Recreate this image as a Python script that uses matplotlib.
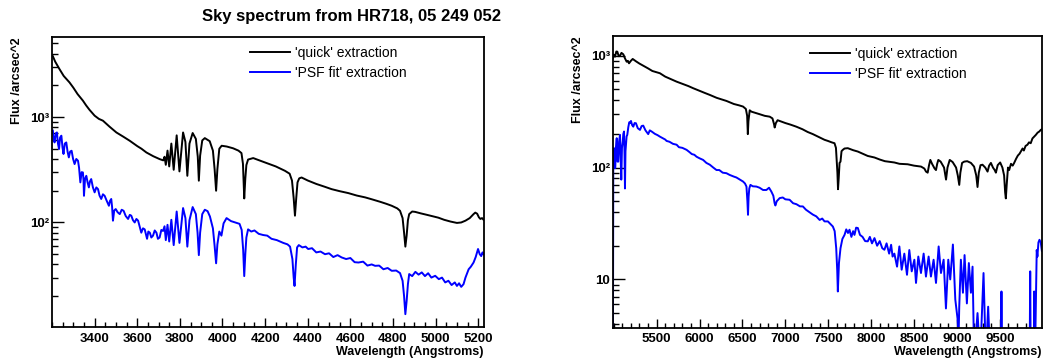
import matplotlib
matplotlib.use("Agg")
import matplotlib.pyplot as plt
from matplotlib.ticker import MultipleLocator, FixedLocator, FixedFormatter, LogLocator, NullFormatter

plt.rcParams['font.family'] = ['Liberation Sans', 'DejaVu Sans']

TITLE = "Sky spectrum from HR718, 05 249 052"
SERIES_LABELS = ["'quick' extraction", "'PSF fit' extraction"]
X_LABEL = "Wavelength (Angstroms)"
Y_LABEL = "Flux /arcsec^2"

# ---------------- left panel : blue arm ----------------
WL_L_QUICK = [3202, 3215, 3235, 3255, 3282, 3300, 3320, 3345, 3360, 3376, 3400, 3420, 3439, 3470,
              3502, 3535, 3565, 3600, 3620, 3643, 3675, 3705, 3722, 3728, 3734, 3742, 3750, 3760,
              3771, 3785, 3798, 3815, 3826, 3835, 3845, 3860, 3875, 3884, 3889, 3895, 3905, 3917,
              3940, 3955, 3963, 3970, 3976, 3985, 3996, 4020, 4050, 4075, 4089, 4096, 4102, 4107,
              4112, 4120, 4144, 4170, 4199, 4250, 4293, 4315, 4326, 4334, 4340, 4346, 4352, 4360,
              4371, 4400, 4440, 4480, 4512, 4550, 4590, 4630, 4669, 4700, 4740, 4770, 4794, 4820,
              4833, 4845, 4852, 4858, 4864, 4870, 4876, 4890, 4904, 4930, 4960, 4990, 5013, 5040,
              5070, 5100, 5120, 5140, 5160, 5178, 5186, 5195, 5203, 5210, 5218, 5225]
FLUX_L_QUICK = [3850, 3350, 2850, 2450, 2130, 1900, 1650, 1430, 1290, 1170, 1030, 960, 923, 810,
                714, 650, 595, 530, 500, 461, 425, 399, 388, 420, 352, 480, 340, 560,
                316, 670, 305, 714, 580, 277, 560, 705, 620, 420, 249, 430, 600, 631,
                590, 480, 320, 200, 320, 500, 534, 525, 505, 480, 455, 360, 169, 260,
                350, 395, 408, 390, 371, 340, 309, 290, 250, 170, 116, 170, 240, 262,
                267, 250, 232, 218, 207, 198, 190, 180, 173, 166, 157, 150, 144, 136,
                129, 110, 80, 59, 75, 105, 120, 127, 126, 122, 118, 114, 111, 106,
                102, 99, 100, 104, 110, 120, 124, 121, 112, 108, 110, 106]

WL_L_PSF = [3204, 3208, 3212, 3218, 3223, 3228, 3233, 3238, 3244, 3249, 3254, 3260, 3267, 3273,
            3279, 3285, 3292, 3299, 3306, 3314, 3322, 3327, 3333, 3339, 3345, 3348, 3350, 3355,
            3361, 3367, 3373, 3378, 3384, 3392, 3400, 3408, 3416, 3423, 3431, 3439, 3447, 3457,
            3467, 3472, 3478, 3482, 3486, 3492, 3499, 3508, 3518, 3527, 3536, 3546, 3557, 3565,
            3572, 3580, 3588, 3596, 3604, 3612, 3619, 3627, 3635, 3640, 3646, 3652, 3659, 3666,
            3674, 3682, 3690, 3697, 3705, 3713, 3721, 3728, 3734, 3742, 3750, 3760, 3771, 3785,
            3798, 3815, 3826, 3835, 3845, 3860, 3875, 3883, 3889, 3895, 3905, 3917, 3930, 3941,
            3955, 3963, 3970, 3976, 3985, 3995, 4005, 4019, 4040, 4060, 4080, 4090, 4097, 4102,
            4107, 4112, 4120, 4135, 4150, 4170, 4191, 4210, 4230, 4255, 4285, 4305, 4317, 4328,
            4334, 4338, 4344, 4350, 4358, 4375, 4390, 4402, 4420, 4440, 4460, 4481, 4500, 4520,
            4540, 4559, 4580, 4600, 4620, 4638, 4660, 4680, 4700, 4716, 4735, 4755, 4775, 4794,
            4815, 4833, 4845, 4852, 4858, 4864, 4870, 4876, 4890, 4905, 4920, 4935, 4950, 4965,
            4980, 4998, 5015, 5030, 5045, 5060, 5075, 5090, 5100, 5110, 5120, 5131, 5140, 5148,
            5155, 5165, 5178, 5188, 5199, 5207, 5214, 5220, 5225]
FLUX_L_PSF = [743, 620, 574, 700, 714, 560, 497, 640, 665, 520, 446, 560, 574, 470,
              414, 470, 479, 400, 358, 400, 385, 330, 240, 300, 298, 250, 179, 260,
              277, 240, 215, 245, 258, 215, 193, 215, 207, 180, 167, 185, 179, 160,
              144, 160, 167, 140, 104, 130, 134, 125, 120, 132, 129, 115, 108, 118,
              116, 105, 100, 108, 104, 90, 80, 88, 86, 78, 70, 82, 80, 72,
              75, 84, 80, 70, 72, 85, 83, 92, 68, 95, 66, 106, 61, 127,
              64, 137, 110, 59, 105, 140, 120, 80, 49, 80, 120, 132, 128, 114,
              88, 60, 41, 62, 82, 75, 98, 110, 103, 100, 97, 85, 55, 31,
              50, 72, 86, 82, 84, 78, 76, 75, 70, 68, 64, 62, 59, 45,
              30, 25, 40, 58, 61, 58, 59, 56, 57, 52, 53, 50, 51, 47,
              49, 46.6, 45, 46, 42, 41.7, 42.5, 39, 40, 38.8, 39, 36, 37, 34.8,
              35, 33.1, 28, 20, 13.5, 18, 26, 32.4, 31, 34, 32, 33.6, 31, 33,
              30, 31.2, 29, 30, 27, 28, 25.5, 27, 25, 26.5, 24.5, 26, 30, 33,
              36, 38, 41.7, 47, 56, 50, 48, 52, 50]

# ---------------- right panel : red arm ----------------
WL_R_QUICK = [4992, 5000, 5015, 5030, 5042, 5058, 5073, 5090, 5112, 5130, 5151, 5165, 5178, 5200,
              5221, 5260, 5300, 5344, 5400, 5450, 5538, 5600, 5650, 5733, 5800, 5870, 5926, 6000,
              6060, 6120, 6200, 6260, 6314, 6400, 6460, 6507, 6540, 6555, 6563, 6570, 6585, 6605,
              6650, 6700, 6760, 6818, 6850, 6868, 6876, 6890, 6910, 6934, 7000, 7060, 7128, 7200,
              7260, 7321, 7400, 7457, 7496, 7540, 7573, 7590, 7600, 7607, 7614, 7622, 7632, 7643,
              7655, 7670, 7690, 7728, 7790, 7845, 7900, 7960, 8039, 8100, 8160, 8233, 8271, 8330,
              8426, 8500, 8582, 8620, 8640, 8659, 8675, 8690, 8710, 8740, 8756, 8770, 8783, 8810,
              8850, 8873, 8890, 8916, 8950, 8990, 9010, 9027, 9040, 9060, 9085, 9120, 9163, 9200,
              9225, 9240, 9255, 9275, 9298, 9330, 9357, 9375, 9396, 9420, 9440, 9454, 9475, 9504,
              9530, 9550, 9562, 9570, 9580, 9595, 9609, 9630, 9650, 9667, 9690, 9710, 9730, 9745,
              9765, 9780, 9800, 9822, 9840, 9860, 9880, 9900, 9920, 9940, 9960, 9977, 9990]
FLUX_R_QUICK = [960, 1020, 980, 1090, 1086, 990, 1000, 1060, 1028, 950, 883, 900, 855, 900,
                935, 890, 850, 814, 770, 730, 697, 650, 625, 586, 560, 535, 512, 485,
                465, 446, 420, 406, 394, 370, 360, 351, 334, 290, 199, 260, 325, 316,
                308, 300, 290, 285, 275, 245, 228, 250, 265, 261, 250, 242, 232, 220,
                208, 199, 186, 177, 173, 168, 165, 150, 110, 90, 64, 80, 110, 113,
                140, 144, 148, 149, 143, 139, 133, 127, 123, 118, 114, 112, 111, 108,
                107, 104, 102, 98, 92, 90, 105, 117, 108, 98, 95, 108, 117, 113,
                100, 78, 100, 117, 112, 100, 85, 70, 90, 110, 113, 114, 110, 102,
                85, 67, 90, 105, 106, 100, 92, 104, 110, 100, 95, 90, 105, 111,
                100, 85, 60, 53, 70, 100, 95, 108, 104, 110, 120, 128, 133, 139,
                148, 142, 156, 160, 168, 165, 182, 189, 196, 205, 210, 217, 220]

WL_R_PSF = [4990, 4995, 5003, 5010, 5018, 5025, 5035, 5044, 5053, 5062, 5073, 5080, 5088, 5096,
            5105, 5112, 5120, 5126, 5131, 5137, 5143, 5150, 5158, 5170, 5181, 5192, 5201, 5214,
            5228, 5243, 5259, 5280, 5306, 5325, 5344, 5370, 5402, 5420, 5442, 5480, 5510, 5538,
            5570, 5600, 5616, 5650, 5690, 5733, 5760, 5800, 5849, 5880, 5910, 5940, 5965, 6000,
            6042, 6080, 6120, 6160, 6198, 6230, 6270, 6314, 6350, 6400, 6430, 6470, 6507, 6530,
            6547, 6558, 6565, 6572, 6580, 6593, 6620, 6663, 6700, 6740, 6779, 6810, 6837, 6860,
            6875, 6884, 6900, 6934, 6970, 7000, 7050, 7090, 7130, 7170, 7205, 7240, 7280, 7320,
            7361, 7400, 7430, 7457, 7496, 7530, 7554, 7575, 7593, 7605, 7612, 7625, 7643, 7665,
            7690, 7710, 7730, 7748, 7770, 7790, 7806, 7825, 7845, 7870, 7900, 7930, 7961, 7985,
            8010, 8039, 8070, 8100, 8130, 8155, 8180, 8210, 8233, 8250, 8271, 8302, 8329, 8356,
            8387, 8418, 8445, 8473, 8504, 8523, 8550, 8581, 8612, 8639, 8670, 8697, 8728, 8756,
            8787, 8814, 8845, 8872, 8899, 8922, 8953, 8981, 9008, 9019, 9027, 9046, 9070, 9089,
            9116, 9139, 9163, 9182, 9201, 9240, 9271, 9310, 9337, 9364, 9388, 9400, 9510, 9519,
            9528, 9845, 9854, 9862, 9895, 9900, 9910, 9930, 9938, 9950, 9962, 9977, 9990]
FLUX_R_PSF = [1.0, 145, 149, 100, 99, 150, 183, 113, 113, 170, 196, 130, 78, 150,
              171, 200, 210, 130, 65, 140, 160, 190, 196, 230, 254, 250, 261, 240,
              232, 250, 249, 225, 217, 235, 237, 215, 199, 215, 210, 200, 195, 189,
              183, 178, 173, 170, 163, 160, 152, 150, 144, 138, 132, 130, 125, 121,
              117, 110, 106, 100, 95, 95, 90, 89, 86, 83, 81.5, 78, 75, 72,
              67.6, 50, 37.8, 55, 65, 70, 68, 67.6, 66, 63, 63, 66, 61, 56,
              48, 45.8, 50, 53.3, 54, 52, 51.5, 48, 47, 45, 44.9, 42, 40, 38,
              36.6, 34, 35, 33, 33, 31, 29.7, 27, 19, 12, 7.8, 14, 19, 23,
              25, 28, 26, 27.8, 24, 27, 25, 29, 28.8, 25, 24, 22, 21.9, 24,
              21, 23.4, 20, 22, 19, 18.4, 21, 17, 20.4, 16, 17, 13, 19.7, 12.2,
              17, 11, 18.3, 11.8, 15, 9.3, 16, 11.4, 17, 10.6, 16, 10.6, 15, 9.3,
              19.7, 11.4, 15, 5.5, 15, 10, 20.5, 6.6, 4.4, 3.0, 5.7, 15, 7.6, 16.5,
              6.1, 14, 7.6, 13, 2.0, 5.0, 2.0, 11.4, 2.0, 5.7, 2.0, 1.0, 1.0, 7.8,
              1.0, 1.0, 11.8, 1.0, 1.0, 7.8, 2.0, 18.3, 16, 21.4, 22.6, 21.4, 18]

W, H = 1045, 362
fig = plt.figure(figsize=(W / 100, H / 100), dpi=100)
axL = fig.add_axes([52 / W, 1 - 327 / H, 432 / W, 290 / H])
axR = fig.add_axes([612.7 / W, 1 - 327.7 / H, 429 / W, 291.7 / H])

LW = 1.4
for ax, (wq, fq, wp, fp) in [(axL, (WL_L_QUICK, FLUX_L_QUICK, WL_L_PSF, FLUX_L_PSF)),
                             (axR, (WL_R_QUICK, FLUX_R_QUICK, WL_R_PSF, FLUX_R_PSF))]:
    ax.plot(wq, fq, color='black', lw=LW, label=SERIES_LABELS[0])
    ax.plot(wp, fp, color='#0000ff', lw=LW, label=SERIES_LABELS[1])
    ax.set_yscale('log')
    for s in ax.spines.values():
        s.set_linewidth(1.3)
    ax.tick_params(which='both', direction='in', top=False, right=False, width=1.0,
                   colors='black')
    ax.tick_params(axis='y', which='major', length=8.5, pad=2)
    ax.tick_params(axis='y', which='minor', length=4.3)
    ax.tick_params(axis='x', which='major', length=6.5, pad=4)
    ax.tick_params(axis='x', which='minor', length=3.3)
    ax.yaxis.set_minor_locator(LogLocator(base=10, subs=range(2, 10)))
    ax.yaxis.set_minor_formatter(NullFormatter())
    ax.set_xlabel(X_LABEL, fontsize=9, fontweight='bold', loc='right')
    ax.set_ylabel(Y_LABEL, fontsize=9, fontweight='bold', loc='top')

# left axis ranges/ticks
axL.set_xlim(3200, 5227)
axL.set_ylim(10.2, 5740)
axL.xaxis.set_minor_locator(MultipleLocator(50))
axL.set_xticks([3400, 3600, 3800, 4000, 4200, 4400, 4600, 4800, 5000, 5200])
axL.yaxis.set_major_locator(FixedLocator([100, 1000]))
axL.yaxis.set_major_formatter(FixedFormatter(["10\u00b2", "10\u00b3"]))

# right axis ranges/ticks
axR.set_xlim(4988, 9988)
axR.set_ylim(3.7, 1500)
axR.xaxis.set_minor_locator(MultipleLocator(100))
axR.set_xticks([5500, 6000, 6500, 7000, 7500, 8000, 8500, 9000, 9500])
axR.yaxis.set_major_locator(FixedLocator([10, 100, 1000]))
axR.yaxis.set_major_formatter(FixedFormatter(["10", "10\u00b2", "10\u00b3"]))

for ax in (axL, axR):
    for lab in ax.get_xticklabels() + ax.get_yticklabels():
        lab.set_fontweight('bold')
        lab.set_fontsize(9.5)

axL.xaxis.set_label_coords(1.0, (327 - 346) / 290)
axR.xaxis.set_label_coords(1.0, (327.7 - 346) / 291.7)
axL.yaxis.set_label_coords((11 - 52) / 432, 1.0)
axR.yaxis.set_label_coords((572 - 612.7) / 429, 1.0)
axL.yaxis.label.set_va('top')
axR.yaxis.label.set_va('top')

fig.text(352 / W, 1 - 17 / H, TITLE, ha='center', va='center', fontsize=12, fontweight='bold')

for ax, (lx, ly) in [(axL, (250, 46)), (axR, (810, 47))]:
    ax.legend(loc='upper left', bbox_to_anchor=(lx / W, 1 - ly / H), bbox_transform=fig.transFigure,
              frameon=False, fontsize=10, handlelength=2.9, handletextpad=0.35,
              labelspacing=0.45, borderpad=0, borderaxespad=0)

fig.savefig('out.png', dpi=100)
